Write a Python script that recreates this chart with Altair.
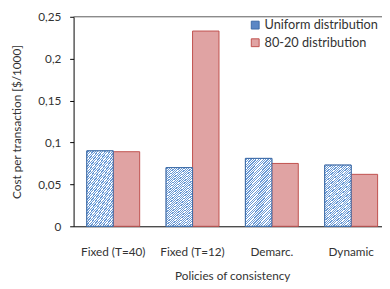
import altair as alt
import pandas as pd

policies = ["Fixed (T=40)", "Fixed (T=12)", "Demarc.", "Dynamic"]
series = ["Uniform distribution", "80-20 distribution"]
uniform = [0.090, 0.070, 0.081, 0.073]
skewed = [0.089, 0.233, 0.075, 0.062]
y_ticks = [0, 0.05, 0.1, 0.15, 0.2, 0.25]

rows = []
for p, u, s in zip(policies, uniform, skewed):
    rows.append({"policy": p, "series": series[0], "cost": u})
    rows.append({"policy": p, "series": series[1], "cost": s})
df = pd.DataFrame(rows)

FONT = "Lato"
TXT = "#333333"
BLUE_EDGE = "#3c6aa6"
HATCH = "#6a9ad6"
RED_FILL = "#e0a3a3"
RED_EDGE = "#c0504d"

# diagonal hatch approximated by a striped linear gradient
N = 38
stops = []
for k in range(N):
    a = k / N
    m = (k + 0.5) / N
    b = (k + 1) / N
    stops += [
        alt.GradientStop(offset=a, color="white"),
        alt.GradientStop(offset=m, color="white"),
        alt.GradientStop(offset=m, color=HATCH),
        alt.GradientStop(offset=b, color=HATCH),
    ]
hatch = alt.LinearGradient(gradient="linear", stops=stops, x1=0, y1=0, x2=0.48, y2=1.2)

x_enc = alt.X(
    "policy:N", sort=policies,
    scale=alt.Scale(paddingInner=0, paddingOuter=0, range=[0, 324]),
    axis=alt.Axis(title="Policies of consistency", labelAngle=0, ticks=False, tickSize=0,
                  domainColor="black", labelPadding=21, titlePadding=13),
)
xo_enc = alt.XOffset("series:N", sort=series,
                     scale=alt.Scale(paddingInner=0, paddingOuter=0.5))
y_enc = alt.Y(
    "cost:Q",
    scale=alt.Scale(domain=[0, 0.25], nice=False),
    axis=alt.Axis(title="Cost per transaction [$/1000]", values=y_ticks,
                  labelExpr="replace(toString(datum.value), '.', ',')",
                  grid=False, domainColor="black", tickColor="black", tickSize=4,
                  labelPadding=9, titlePadding=15),
)

leg = alt.Legend(title=None, orient="none", legendX=179, legendY=2,
                 symbolType="square", symbolSize=64, symbolStrokeWidth=1,
                 labelOffset=3, rowPadding=4, labelFontSize=13)

base = alt.Chart(df)

bars = base.mark_bar(strokeWidth=1).encode(
    x=x_enc, xOffset=xo_enc, y=y_enc,
    fill=alt.Fill("series:N", sort=series,
                  scale=alt.Scale(domain=series, range=["#5b87c5", RED_FILL]),
                  legend=leg),
    stroke=alt.Stroke("series:N", sort=series,
                      scale=alt.Scale(domain=series, range=[BLUE_EDGE, RED_EDGE]),
                      legend=leg),
)

hatched = base.transform_filter(
    alt.datum.series == series[0]
).mark_bar(fill=hatch, stroke=BLUE_EDGE, strokeWidth=1).encode(
    x=x_enc, xOffset=xo_enc, y=y_enc,
)

top = alt.Chart(pd.DataFrame({"v": [0.25]})).mark_rule(color="#595959", strokeWidth=1).encode(
    y=alt.Y("v:Q", scale=alt.Scale(domain=[0, 0.25], nice=False)),
    x=alt.value(0), x2=alt.value(324),
)

chart = alt.layer(bars, hatched, top).properties(
    width=315, height=214,
    autosize=alt.AutoSizeParams(type="none"),
    padding={"left": 67, "top": 6, "right": 0, "bottom": 58},
).configure_view(stroke=None).configure_axis(
    labelFont=FONT, titleFont=FONT, labelFontSize=12, titleFontSize=12,
    labelColor=TXT, titleColor=TXT, titleFontWeight="normal",
).configure_legend(labelFont=FONT, labelColor=TXT)

chart.save("out.html", embed_options={"renderer": "svg", "actions": False})
